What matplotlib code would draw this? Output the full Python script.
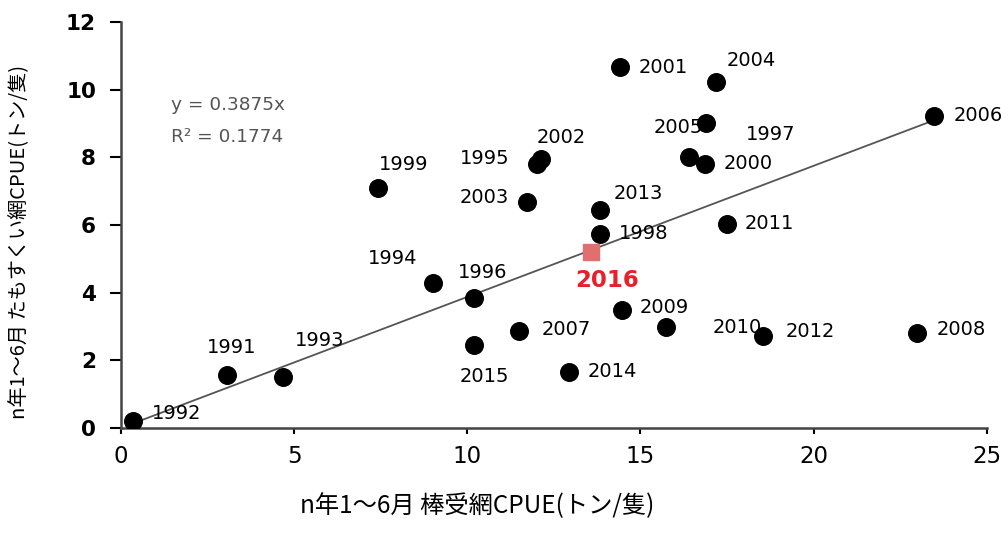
import matplotlib
matplotlib.use("Agg")
import matplotlib.pyplot as plt
import numpy as np

plt.rcParams['font.family'] = ['Noto Sans CJK JP', 'DejaVu Sans']

# 棒受網CPUE (x) と たもすくい網CPUE (y), 1991-2015
years = [1991, 1992, 1993, 1994, 1995, 1996, 1997, 1998, 1999, 2000,
         2001, 2002, 2003, 2004, 2005, 2006, 2007, 2008, 2009, 2010,
         2011, 2012, 2013, 2014, 2015]
bouuke = [3.06, 0.35, 4.68, 9.02, 12.0, 10.2, 16.88, 13.84, 7.43, 16.85,
          14.42, 12.14, 11.73, 17.17, 16.39, 23.47, 11.5, 22.98, 14.48, 15.75,
          17.49, 18.53, 13.84, 12.95, 10.2]
tamo = [1.57, 0.2, 1.51, 4.29, 7.81, 3.85, 9.02, 5.74, 7.1, 7.81,
        10.68, 7.96, 6.69, 10.24, 8.02, 9.23, 2.87, 2.81, 3.49, 2.99,
        6.04, 2.72, 6.45, 1.66, 2.46]

# ラベル位置 (x, y)
label_pos = {
    1991: (3.2, 2.37), 1992: (1.6, 0.44), 1993: (5.75, 2.6), 1994: (7.83, 5.0),
    1995: (10.5, 7.96), 1996: (10.45, 4.6), 1997: (18.75, 8.67), 1998: (15.1, 5.74),
    1999: (8.15, 7.78), 2000: (18.1, 7.81), 2001: (15.65, 10.65), 2002: (12.7, 8.58),
    2003: (10.5, 6.8), 2004: (18.2, 10.86), 2005: (16.1, 8.88), 2006: (24.75, 9.23),
    2007: (12.86, 2.9), 2008: (24.25, 2.9), 2009: (15.7, 3.55), 2010: (17.8, 2.96),
    2011: (18.73, 6.04), 2012: (19.9, 2.84), 2013: (14.95, 6.92), 2014: (14.2, 1.66),
    2015: (10.5, 1.51),
}

year_new = 2016
bouuke_new = 13.58
tamo_new = 5.2

slope = 0.3875
r2 = 0.1774

fig = plt.figure(figsize=(10.08, 5.34), dpi=100)
ax = fig.add_axes([0.12, 0.1985, 0.859, 0.7603])

# 原点を通る回帰直線
xl = np.array([min(bouuke), max(bouuke)])
ax.plot(xl, slope * xl, color='#555555', lw=1.3, zorder=1)

ax.scatter(bouuke, tamo, s=160, color='black', zorder=3)
ax.scatter([bouuke_new], [tamo_new], s=130, marker='s', color='#e07070', zorder=4)

for yr, xv, yv in zip(years, bouuke, tamo):
    lx, ly = label_pos[yr]
    ax.text(lx, ly, str(yr), fontsize=14, ha='center', va='center',
            family='DejaVu Sans', color='black', zorder=5)
ax.text(14.05, 4.37, str(year_new), fontsize=16.5, ha='center', va='center',
        family='DejaVu Sans', fontweight='bold', color='#e8202a', zorder=5)

ax.text(1.45, 9.55, 'y = %.4fx' % slope, fontsize=13.3, color='#555555',
        family='DejaVu Sans', va='center')
ax.text(1.45, 8.6, 'R² = %.4f' % r2, fontsize=13.3, color='#555555',
        family='DejaVu Sans', va='center')

ax.set_xlim(0, 25)
ax.set_ylim(0, 12)
ax.set_xticks(np.arange(0, 26, 5))
ax.set_yticks(np.arange(0, 13, 2))
ax.tick_params(axis='x', labelsize=16.5, length=4, width=1.5, pad=8)
ax.tick_params(axis='y', labelsize=15.5, length=8, width=1.5, pad=10)
for lab in ax.get_xticklabels():
    lab.set_family('DejaVu Sans')
for lab in ax.get_yticklabels():
    lab.set_family('DejaVu Sans')
    lab.set_fontweight('bold')
ax.spines['top'].set_visible(False)
ax.spines['right'].set_visible(False)
ax.spines['left'].set_linewidth(1.8)
ax.spines['bottom'].set_linewidth(1.8)
ax.spines['left'].set_color('#444444')
ax.spines['bottom'].set_color('#444444')

ax.set_xlabel('n年1～6月 棒受網CPUE(トン/隻)', fontsize=17.5)
ax.set_ylabel('n年1～6月 たもすくい網CPUE(トン/隻)', fontsize=14.5)
ax.xaxis.set_label_coords(0.411, -0.16)
ax.yaxis.set_label_coords(-0.105, 0.458)

fig.savefig('out.png', dpi=100)
